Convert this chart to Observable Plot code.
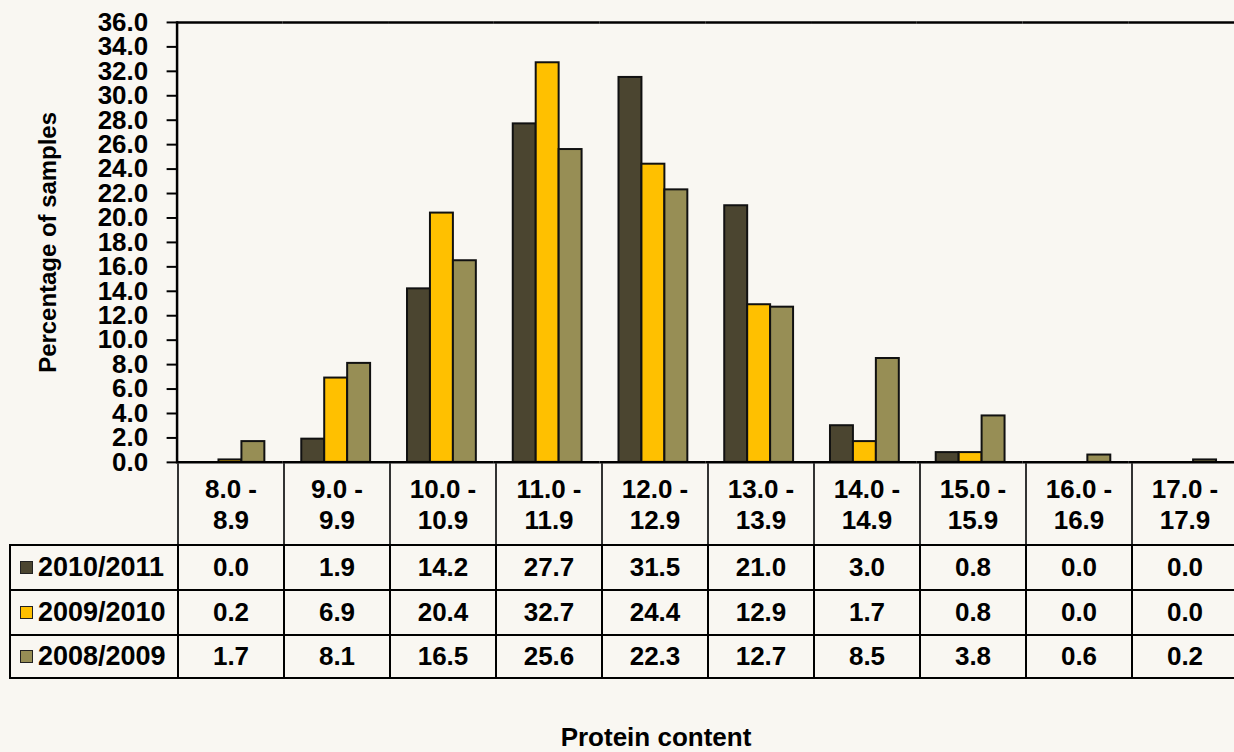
<!DOCTYPE html>
<html>
<head>
<meta charset="utf-8">
<script src="https://cdn.jsdelivr.net/npm/d3@7"></script>
<script src="https://cdn.jsdelivr.net/npm/@observablehq/plot@0.6"></script>
<style>
  html, body { margin: 0; padding: 0; }
  body {
    width: 1234px; height: 752px; overflow: hidden; position: relative;
    background: #f9f7f2;
    font-family: "Liberation Sans", Arial, sans-serif; font-weight: bold; color: #000;
  }
  #chart { position: absolute; left: 0; top: 0; }
  #table {
    position: absolute; left: 9px; top: 463px;
    display: grid;
    grid-template-columns: 168px repeat(10, 106px);
    grid-template-rows: 81px 45px 45px 45px;
    font-size: 26px;
  }
  #table div { box-sizing: border-box; display: flex; align-items: center; justify-content: center; text-align: center; }
  #table .hdr { border-left: 2px solid #333; line-height: 31px; padding-top: 2px; }
  #table .hdr0 { border: none; }
  #table .lbl { justify-content: flex-start; border-top: 2.5px solid #000; border-left: 2.5px solid #000; padding-left: 9px; font-size: 27px; white-space: nowrap; }
  #table .val { border-top: 2.5px solid #000; border-left: 2.5px solid #000; }
  #table .last { border-bottom: 2.5px solid #000; }
  .sw { display: inline-block; width: 11px; height: 11px; border: 1.5px solid #222; margin-right: 5px; flex: none; }
  #xlabel { position: absolute; left: 656px; top: 722px; transform: translateX(-50%); font-size: 26px; white-space: nowrap; }
</style>
</head>
<body>
<div id="chart"></div>
<div id="table"></div>
<div id="xlabel"></div>
<script>
const categories = ["8.0 - 8.9", "9.0 - 9.9", "10.0 - 10.9", "11.0 - 11.9", "12.0 - 12.9", "13.0 - 13.9", "14.0 - 14.9", "15.0 - 15.9", "16.0 - 16.9", "17.0 - 17.9"];
const seasons = ["2010/2011", "2009/2010", "2008/2009"];
const values2010_2011 = [0.0, 1.9, 14.2, 27.7, 31.5, 21.0, 3.0, 0.8, 0.0, 0.0];
const values2009_2010 = [0.2, 6.9, 20.4, 32.7, 24.4, 12.9, 1.7, 0.8, 0.0, 0.0];
const values2008_2009 = [1.7, 8.1, 16.5, 25.6, 22.3, 12.7, 8.5, 3.8, 0.6, 0.2];
const seasonColors = ["#4b4530", "#ffc000", "#978e55"];
const yTicks = [0, 2, 4, 6, 8, 10, 12, 14, 16, 18, 20, 22, 24, 26, 28, 30, 32, 34, 36];
const yLabel = "Percentage of samples";
const xLabel = "Protein content";

const series = [values2010_2011, values2009_2010, values2008_2009];
const rows = [];
series.forEach((vals, si) => vals.forEach((v, ci) => rows.push({category: categories[ci], season: seasons[si], value: v})));

const chart = Plot.plot({
  width: 1237, height: 475,
  marginTop: 22, marginBottom: 12, marginLeft: 177, marginRight: 0,
  style: {background: "transparent", fontFamily: "'Liberation Sans', Arial, sans-serif", fontWeight: "bold", fontSize: "26px", color: "#000", overflow: "visible"},
  fx: {domain: categories, padding: 0, axis: null},
  x: {domain: seasons, paddingInner: 0, paddingOuter: 0.736, axis: null},
  y: {domain: [0, 36], axis: null},
  color: {domain: seasons, range: seasonColors},
  marks: [
    Plot.barY(rows.filter(d => d.value > 0), {fx: "category", x: "season", y: "value", fill: "season", stroke: "#111", strokeWidth: 2, inset: 0}),
    Plot.ruleY([0], {stroke: "#000", strokeWidth: 2.5}),
    Plot.ruleY([36], {stroke: "#000", strokeWidth: 2.5}),
    Plot.frame({anchor: "left", facetAnchor: "left", stroke: "#000", strokeWidth: 2.5}),
    Plot.axisY({ticks: yTicks, tickFormat: d => d.toFixed(1), tickSize: 10, tickPadding: 19, strokeWidth: 2, stroke: "#000",
      label: yLabel, labelAnchor: "center", labelArrow: "none", labelOffset: 138})
  ]
});
document.getElementById("chart").appendChild(chart);
chart.querySelectorAll("g[aria-label='y-axis label']").forEach(g => { g.setAttribute("font-size", 24); g.querySelectorAll("text").forEach(t => t.setAttribute("font-size", 24)); });

// data table
const table = document.getElementById("table");
const h0 = document.createElement("div"); h0.className = "hdr0"; table.appendChild(h0);
categories.forEach(c => {
  const [lo, hi] = c.split(" - ");
  const d = document.createElement("div"); d.className = "hdr";
  d.innerHTML = lo + " -<br>" + hi;
  table.appendChild(d);
});
series.forEach((vals, si) => {
  const last = si === series.length - 1 ? " last" : "";
  const l = document.createElement("div"); l.className = "lbl" + last;
  const sw = document.createElement("span"); sw.className = "sw"; sw.style.background = seasonColors[si];
  l.appendChild(sw); l.appendChild(document.createTextNode(seasons[si]));
  table.appendChild(l);
  vals.forEach(v => {
    const d = document.createElement("div"); d.className = "val" + last;
    d.textContent = v.toFixed(1);
    table.appendChild(d);
  });
});
document.getElementById("xlabel").textContent = xLabel;
</script>
</body>
</html>
